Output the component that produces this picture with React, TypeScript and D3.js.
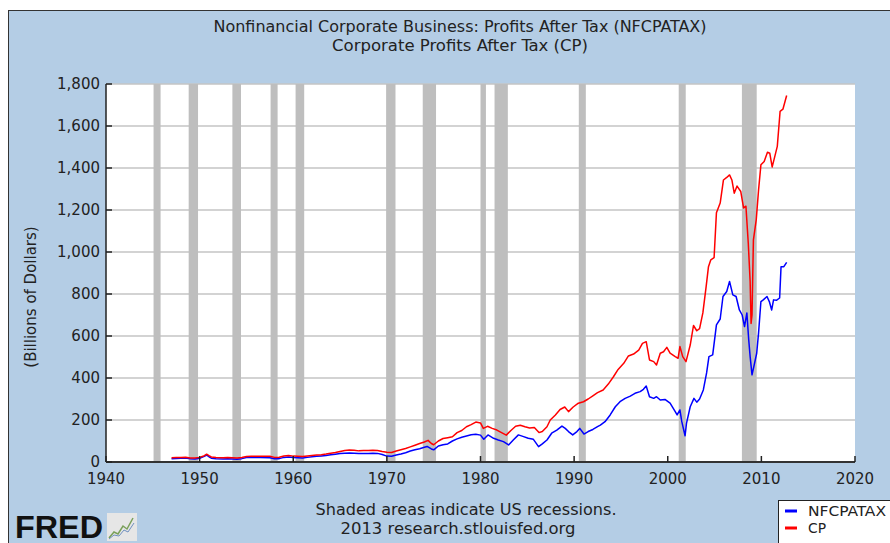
import React from 'react';
import * as d3 from 'd3';

// Corporate Profits After Tax (CP), billions of dollars
const cpDates = [
  1947.0, 1947.5, 1948.0, 1948.5, 1949.0, 1949.5, 1950.0, 1950.5, 1950.75, 1951.0, 1951.25, 1951.75,
  1952.5, 1953.0, 1953.5, 1954.0, 1954.5, 1955.0, 1955.5, 1956.5, 1957.5, 1958.0, 1958.5, 1959.0,
  1959.5, 1960.0, 1960.5, 1961.0, 1961.5, 1962.0, 1962.5, 1963.0, 1963.5, 1964.0, 1964.5, 1965.0,
  1965.5, 1966.0, 1966.5, 1967.0, 1967.5, 1968.0, 1968.5, 1969.0, 1969.5, 1970.0, 1970.5, 1971.0,
  1971.5, 1972.0, 1972.5, 1973.0, 1973.5, 1974.0, 1974.4, 1974.75, 1975.0, 1975.5, 1976.0, 1976.5,
  1977.0, 1977.5, 1978.0, 1978.5, 1979.0, 1979.5, 1980.0, 1980.3, 1980.75, 1981.25, 1981.75, 1982.25,
  1982.75, 1983.25, 1983.75, 1984.25, 1984.75, 1985.25, 1985.75, 1986.25, 1986.6, 1987.1, 1987.45, 1988.0,
  1988.5, 1989.0, 1989.4, 1989.9, 1990.45, 1991.0, 1991.5, 1992.0, 1992.5, 1993.1, 1993.65, 1994.2,
  1994.7, 1995.3, 1995.8, 1996.35, 1996.9, 1997.3, 1997.7, 1998.05, 1998.5, 1998.8, 1999.2, 1999.55,
  1999.9, 2000.25, 2000.8, 2001.1, 2001.3, 2001.6, 2001.95, 2002.4, 2002.75, 2003.1, 2003.4, 2003.75,
  2004.1, 2004.35, 2004.6, 2004.95, 2005.2, 2005.6, 2005.95, 2006.3, 2006.6, 2006.85, 2007.1, 2007.4,
  2007.8, 2008.1, 2008.35, 2008.6, 2008.8, 2008.9, 2009.0, 2009.15, 2009.45, 2009.7, 2009.95, 2010.3,
  2010.65, 2010.9, 2011.15, 2011.35, 2011.7, 2012.0, 2012.3, 2012.7,
];
const cpValues = [
  20, 21, 22, 23, 19, 19, 22, 30, 37, 30, 24, 21,
  20, 21, 20, 19, 21, 26, 27, 27, 27, 22, 23, 29,
  31, 28, 27, 26, 29, 31, 33, 35, 38, 42, 45, 50,
  55, 57, 56, 53, 55, 55, 56, 55, 50, 46, 45, 52,
  58, 64, 72, 80, 88, 95, 103, 88, 82, 100, 112, 116,
  120, 140, 150, 168, 178, 190, 186, 160, 170, 160, 152, 140,
  128, 150, 170, 175, 168, 162, 164, 140, 145, 168, 200, 224,
  250, 262, 240, 262, 280, 287, 300, 315, 330, 343, 371, 406,
  441, 470, 505, 514, 533, 565, 573, 486, 478, 462, 518, 525,
  546, 518, 502, 494, 550, 502, 478, 557, 650, 625, 635, 710,
  835, 930, 963, 973, 1187, 1233, 1343, 1355, 1367, 1343, 1280, 1314,
  1288, 1210, 1218, 1043, 860, 660, 700, 1058, 1153, 1296, 1415, 1431,
  1475, 1470, 1405, 1440, 1503, 1670, 1680, 1745,
];

// Nonfinancial Corporate Business: Profits After Tax (NFCPATAX)
const nfcDates = [
  1947.0, 1947.5, 1948.0, 1948.5, 1949.0, 1949.5, 1950.0, 1950.5, 1950.75, 1951.0, 1951.25, 1951.75,
  1952.5, 1953.0, 1953.5, 1954.0, 1954.5, 1955.0, 1955.5, 1956.5, 1957.5, 1958.0, 1958.5, 1959.0,
  1959.5, 1960.0, 1960.5, 1961.0, 1961.5, 1962.0, 1962.5, 1963.0, 1963.5, 1964.0, 1964.5, 1965.0,
  1965.5, 1966.0, 1966.5, 1967.0, 1967.5, 1968.0, 1968.5, 1969.0, 1969.5, 1970.0, 1970.5, 1971.0,
  1971.5, 1972.0, 1972.5, 1973.0, 1973.5, 1974.0, 1974.3, 1974.75, 1975.0, 1975.5, 1976.0, 1976.5,
  1977.0, 1977.5, 1978.0, 1978.5, 1979.0, 1979.5, 1980.0, 1980.35, 1980.8, 1981.4, 1981.9, 1982.45,
  1983.0, 1983.5, 1984.05, 1984.6, 1985.1, 1985.65, 1986.2, 1986.6, 1987.1, 1987.6, 1988.15, 1988.7,
  1989.05, 1989.4, 1989.85, 1990.3, 1990.6, 1991.05, 1991.5, 1992.0, 1992.5, 1992.8, 1993.3, 1993.85,
  1994.4, 1994.9, 1995.45, 1996.0, 1996.5, 1997.05, 1997.4, 1997.7, 1998.05, 1998.5, 1998.8, 1999.2,
  1999.7, 2000.25, 2000.8, 2001.0, 2001.3, 2001.5, 2001.85, 2002.0, 2002.4, 2002.8, 2003.1, 2003.4,
  2003.8, 2004.15, 2004.4, 2004.8, 2005.2, 2005.6, 2005.9, 2006.3, 2006.6, 2006.95, 2007.3, 2007.65,
  2007.95, 2008.2, 2008.45, 2008.65, 2008.8, 2009.0, 2009.2, 2009.5, 2009.7, 2009.95, 2010.2, 2010.6,
  2010.85, 2011.1, 2011.3, 2011.6, 2011.95, 2012.1, 2012.4, 2012.7,
];
const nfcValues = [
  16, 17, 18, 19, 15, 14, 18, 27, 33, 25, 18, 15,
  14, 15, 14, 13, 16, 21, 22, 21, 20, 15, 16, 22,
  24, 21, 20, 19, 22, 25, 27, 29, 31, 34, 37, 40,
  42, 43, 42, 40, 41, 41, 42, 41, 36, 28, 27, 33,
  38, 44, 52, 58, 63, 70, 74, 62, 58, 76, 82, 86,
  100, 110, 118, 124, 130, 132, 128, 108, 129, 113, 105, 97,
  81, 105, 129, 121, 113, 108, 73, 86, 105, 137, 152, 171,
  160, 145, 129, 145, 160, 133, 145, 155, 168, 176, 192, 224,
  263, 287, 303, 314, 327, 335, 346, 362, 311, 303, 311, 295,
  298, 280, 240, 224, 248, 192, 125, 184, 263, 303, 285, 300,
  343, 424, 502, 510, 653, 681, 788, 812, 860, 796, 788, 724,
  700, 645, 710, 581, 502, 415, 455, 518, 615, 764, 772, 788,
  764, 724, 772, 770, 781, 930, 930, 951,
];

// NBER recessions (fractional years)
const recessionStarts = [1945.08, 1948.83, 1953.5, 1957.58, 1960.25, 1969.92, 1973.83, 1980.0, 1981.5, 1990.5, 2001.17, 2007.92];
const recessionEnds = [1945.83, 1949.83, 1954.42, 1958.33, 1961.17, 1970.92, 1975.25, 1980.58, 1982.92, 1991.25, 2001.92, 2009.5];

const yTicks = [0, 200, 400, 600, 800, 1000, 1200, 1400, 1600, 1800];
const xTicks = [1940, 1950, 1960, 1970, 1980, 1990, 2000, 2010, 2020];

const seriesNames = ['NFCPATAX', 'CP'];
const seriesColors = ['#0000ff', '#ff0000'];

const W = 890;
const H = 543;
const plot = { left: 106, right: 855, top: 84, bottom: 462 };

const condensed = '"DejaVu Sans Condensed", "DejaVu Sans", sans-serif';
const verdana = '"DejaVu Sans", Verdana, sans-serif';

export default function App() {
  const x = d3.scaleLinear().domain([1940, 2020]).range([plot.left, plot.right]);
  const y = d3.scaleLinear().domain([0, 1800]).range([plot.bottom, plot.top]);
  const fmt = d3.format(',');

  const line = d3.line<[number, number]>()
    .x(d => x(d[0]))
    .y(d => y(d[1]));

  const series = [
    { name: seriesNames[0], color: seriesColors[0], pts: nfcDates.map((d, i) => [d, nfcValues[i]] as [number, number]) },
    { name: seriesNames[1], color: seriesColors[1], pts: cpDates.map((d, i) => [d, cpValues[i]] as [number, number]) },
  ];

  return (
    <svg width={W} height={H} style={{ position: 'absolute', left: 0, top: 0 }}>
      <rect x={0} y={0} width={W} height={H} fill="#ffffff" />
      <rect x={8.5} y={10.5} width={W} height={H} fill="#b4cde5" stroke="#333" strokeWidth={1} />

      <text x={460} y={32} textAnchor="middle" fontFamily={condensed} fontSize={16} textLength={493} lengthAdjust="spacingAndGlyphs" fill="#222">
        Nonfinancial Corporate Business: Profits After Tax (NFCPATAX)
      </text>
      <text x={460} y={51} textAnchor="middle" fontFamily={condensed} fontSize={16} textLength={256} lengthAdjust="spacingAndGlyphs" fill="#222">
        Corporate Profits After Tax (CP)
      </text>

      {/* plot area */}
      <rect x={plot.left} y={plot.top} width={plot.right - plot.left} height={plot.bottom - plot.top} fill="#ffffff" />
      {yTicks.slice(1).map(t => (
        <line key={t} x1={plot.left} x2={plot.right} y1={y(t)} y2={y(t)} stroke="#c4c4c4" strokeWidth={1.5} />
      ))}
      {recessionStarts.map((s, i) => (
        <rect key={s} x={x(s)} y={plot.top} width={Math.max(x(recessionEnds[i]) - x(s), 2)} height={plot.bottom - plot.top} fill="#bebebe" />
      ))}

      {series.map(s => (
        <path key={s.name} d={line(s.pts) || ''} fill="none" stroke={s.color} strokeWidth={1.5} strokeLinejoin="round" />
      ))}

      {/* axes */}
      <line x1={plot.left} x2={plot.left} y1={plot.top} y2={plot.bottom} stroke="#222" strokeWidth={1.5} />
      <line x1={plot.left} x2={plot.right} y1={plot.bottom} y2={plot.bottom} stroke="#333" strokeWidth={2} />
      {yTicks.map(t => (
        <g key={t}>
          <line x1={plot.left} x2={plot.left + 6} y1={y(t)} y2={y(t)} stroke="#222" strokeWidth={1.5} />
          <text x={plot.left - 6} y={y(t)} dy="0.36em" textAnchor="end" fontFamily={verdana} fontSize={15} fill="#222">
            {fmt(t)}
          </text>
        </g>
      ))}
      {xTicks.map(t => (
        <g key={t}>
          <line x1={x(t)} x2={x(t)} y1={plot.bottom} y2={plot.bottom - 6} stroke="#222" strokeWidth={1.5} />
          <text x={x(t)} y={484} textAnchor="middle" fontFamily={verdana} fontSize={15} fill="#222">
            {t}
          </text>
        </g>
      ))}
      <text transform="translate(36,297) rotate(-90)" textAnchor="middle" fontFamily={verdana} fontSize={15} fill="#222">
        (Billions of Dollars)
      </text>

      {/* footer */}
      <text x={466} y={515} textAnchor="middle" fontFamily={condensed} fontSize={16.5} textLength={301} lengthAdjust="spacingAndGlyphs" fill="#222">
        Shaded areas indicate US recessions.
      </text>
      <text x={458} y={534} textAnchor="middle" fontFamily={condensed} fontSize={16.5} textLength={235} lengthAdjust="spacingAndGlyphs" fill="#222">
        2013 research.stlouisfed.org
      </text>

      {/* FRED logo */}
      <text x={15} y={538} fontFamily='"Liberation Sans", Arial, sans-serif' fontWeight="bold" fontSize={31} textLength={88} lengthAdjust="spacingAndGlyphs" fill="#111">
        FRED
      </text>
      <rect x={107} y={513} width={30} height={28} fill="#e6e6e6" />
      <polyline points="109,538 114,532 118,534 123,526 127,529 133,518" fill="none" stroke="#7aa05a" strokeWidth={1.5} />
      <polyline points="109,539 114,535 119,536 124,530 128,532 134,523" fill="none" stroke="#7090c0" strokeWidth={1} />

      {/* legend */}
      <rect x={778.5} y={500.5} width={W} height={H} fill="#ffffff" stroke="#222" strokeWidth={1} />
      {seriesNames.map((n, i) => (
        <g key={n}>
          <line x1={785} x2={797} y1={511 + i * 17} y2={511 + i * 17} stroke={seriesColors[i]} strokeWidth={3} />
          <text x={808} y={511 + i * 17} dy="0.35em" fontFamily={condensed} fontSize={14} textLength={i === 0 ? 78 : 18} lengthAdjust="spacingAndGlyphs" fill="#222">
            {n}
          </text>
        </g>
      ))}
    </svg>
  );
}
